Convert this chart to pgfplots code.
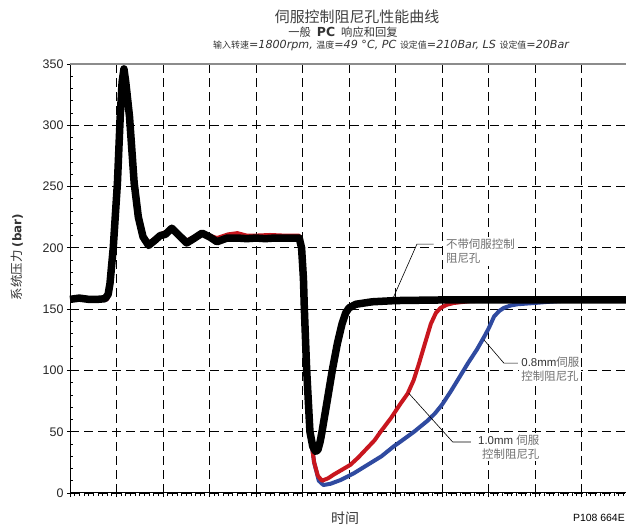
\documentclass[border=0pt]{standalone}
\usepackage{pgfplots}
\pgfplotsset{compat=1.18}
\usepackage{fontspec}
\setmainfont{Liberation Sans}
\newfontfamily\cjk{Noto Sans CJK SC}
\newfontfamily\dv{DejaVu Sans}
\definecolor{cred}{HTML}{C8161E}
\definecolor{cblue}{HTML}{2F4AA0}
\definecolor{tgray}{HTML}{707070}

\pgfplotstableread{
u v
0 158
0.2 159
0.4 158
0.6 158
0.75 158.5
0.82 162
0.86 171
0.93 200
1.02 253
1.08 307
1.12 335
1.16 346
1.20 335
1.28 307
1.38 253
1.47 225
1.57 209
1.69 202
1.82 206
1.94 210
2.05 211
2.19 216
2.35 210
2.51 204
2.68 208
2.84 212
3.0 209
3.16 205
3.38 208
3.6 208
3.8 207.5
4.0 208
4.2 207.5
4.4 208
4.6 208
4.8 208
4.93 208
4.98 200
5.02 175
5.04 150
5.09 100
5.16 50
5.22 38
5.28 34
5.33 35
5.38 42
5.42 50
5.53 75
5.64 100
5.75 122
5.85 138
5.93 147
6.0 151
6.15 154
6.5 156
7 157
8 157.5
9 157.5
10 157.5
11 157.5
12 157.5
}\blackdata

\pgfplotstableread{
u v
0 158
0.8 158
0.88 170
0.95 205
1.03 258
1.09 310
1.16 344
1.21 333
1.29 305
1.39 252
1.48 224
1.58 210
1.70 204
1.94 211
2.19 215
2.51 206
2.84 212
3.16 208
3.4 211
3.6 212
3.8 210
4.0 210
4.3 210.5
4.6 210
4.93 210
4.98 200
5.02 175
5.04 150
5.09 100
5.16 50
5.25 25
5.33 14
5.42 10
5.55 12
5.67 15
5.85 19
6.03 23
6.2 29
6.40 37
6.55 43
6.68 50
6.9 61
7.11 73
7.26 81
7.39 92
7.5 105
7.61 119
7.76 138
7.87 147
7.97 151
8.1 153.5
8.25 155
8.6 156.5
9 157
12 157.5
}\reddata

\pgfplotstableread{
u v
0 158
0.8 158
0.88 170
0.95 205
1.03 258
1.09 310
1.16 344
1.21 333
1.29 305
1.39 252
1.48 224
1.58 209
1.70 203
1.94 209
2.19 214
2.51 204
2.84 211
3.16 206
3.4 208
3.8 208
4.3 208
4.93 208
4.98 200
5.02 175
5.04 150
5.09 100
5.16 50
5.25 25
5.35 10
5.45 6.5
5.6 7.5
5.82 10.6
6.1 16
6.40 23
6.7 30
6.96 38
7.11 42
7.4 50
7.69 59
7.85 65
8.0 72
8.19 83
8.4 96
8.56 106
8.75 117
8.90 127
9.0 134
9.12 144
9.23 148.5
9.33 151
9.48 153
9.63 154
9.98 155
10.3 156
10.7 157
12 157.5
}\bluedata

\begin{document}
\begin{tikzpicture}[x=1bp,y=1bp]
\begin{axis}[
  at={(70bp,33bp)}, anchor=south west,
  scale only axis, width=558bp, height=429bp,
  xmin=0, xmax=12, ymin=0, ymax=350,
  axis x line=bottom, axis y line=left,
  axis line style={-, black, line width=1bp},
  xtick={0,...,12}, xticklabels={},
  minor x tick num=9,
  ytick={0,50,...,350},
  minor y tick num=4,
  tick align=inside,
  major tick length=6bp, minor tick length=3bp,
  minor x tick style={yshift=-3bp},
  major y tick style={xshift=-3bp},
  major x tick style={yshift=-4bp},
  tick style={black, line width=0.8bp},
  grid=major,
  major grid style={black, line width=0.9bp, dash pattern=on 9bp off 5bp},
  /pgf/number format/assume math mode=true,
  yticklabel style={font=\fontsize{12.5}{14}\selectfont, text=black!85, xshift=-3bp},
  clip=false,
]
\addplot[cblue, line width=4bp, line join=round] table[x=u,y=v] {\bluedata};
\addplot[cred, line width=4bp, line join=round] table[x=u,y=v] {\reddata};
\addplot[black, line width=7.5bp, line join=round] table[x=u,y=v] {\blackdata};
\draw[black!45, line width=1.6bp] (axis cs:0,350) -- (axis cs:12.2,350);
% labels with white background
\node[anchor=west, align=left, inner sep=2bp, fill=white, text=tgray, font=\cjk\fontsize{11.5}{14}\selectfont] at (axis cs:8.04,197) {不带伺服控制\\阻尼孔};
\node[anchor=west, align=left, inner sep=2bp, fill=white, text=tgray, font=\fontsize{11.5}{14}\selectfont] at (axis cs:9.66,101) {\textcolor{black!80}{0.8mm}{\cjk 伺服}\\{\cjk 控制阻尼孔}};
\node[anchor=west, align=left, inner sep=2bp, fill=white, text=tgray, font=\fontsize{11.5}{14}\selectfont] at (axis cs:8.73,37.5) {\textcolor{black!80}{1.0mm} {\cjk 伺服}\\\hspace{4bp}{\cjk 控制阻尼孔}};
% leaders
\draw[black, line width=0.6bp] (axis cs:6.96,160) -- (axis cs:7.46,203) -- (axis cs:7.82,203);
\draw[black, line width=0.6bp] (axis cs:8.90,125) -- (axis cs:9.33,106) -- (axis cs:9.63,106);
\draw[black, line width=0.6bp] (axis cs:7.28,81.6) -- (axis cs:8.23,41.6) -- (axis cs:8.62,41.6);
\end{axis}
% titles
\node[text=black!75, font=\cjk\fontsize{15}{17}\selectfont] at (357bp,509bp) {伺服控制阻尼孔性能曲线};
\node[text=black!80, font=\cjk\fontsize{11.3}{13}\selectfont] at (343bp,494bp) {一般\hspace{6bp}{\dv\bfseries\fontsize{12.5}{13}\selectfont PC}\hspace{6bp}响应和回复};
\node[anchor=west, inner sep=0pt, text=black!80, font=\cjk\fontsize{9}{10}\selectfont] at (213bp,480bp) {输入转速{\dv\itshape\fontsize{11.2}{10}\selectfont =1800rpm, }温度{\dv\itshape\fontsize{11.2}{10}\selectfont =49 °C, PC }设定值{\dv\itshape\fontsize{11.2}{10}\selectfont =210Bar, LS }设定值{\dv\itshape\fontsize{11.2}{10}\selectfont =20Bar}};
\node[rotate=90, text=black!80, font=\cjk\fontsize{12.5}{14}\selectfont] at (17bp,269bp) {系统压力 {\dv\bfseries\fontsize{12}{14}\selectfont (bar)}};
\node[text=black!80, font=\cjk\fontsize{14}{16}\selectfont] at (345bp,8bp) {时间};
\node[anchor=east, inner sep=0pt, font=\fontsize{10.5}{12}\selectfont] at (625bp,8bp) {P108 664E};
\pgfresetboundingbox
\path[use as bounding box] (0,0) rectangle (626bp,526bp);
\end{tikzpicture}
\end{document}
